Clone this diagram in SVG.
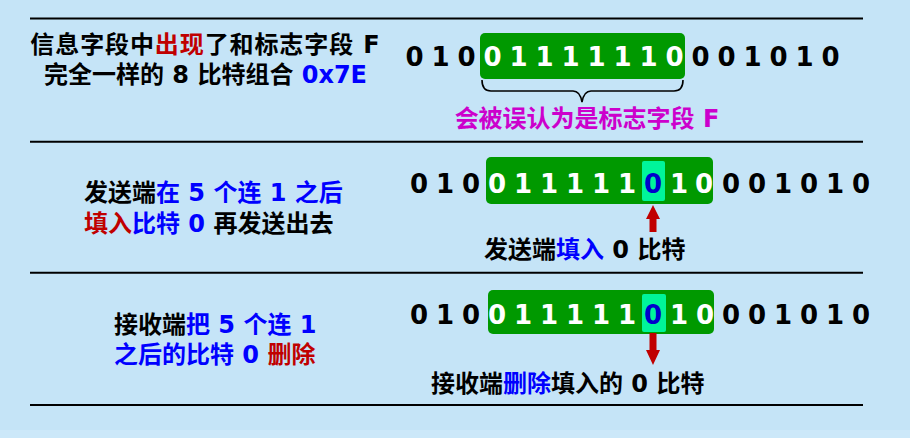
<svg xmlns="http://www.w3.org/2000/svg" width="910" height="438" viewBox="0 0 910 438">
<style>
.t{font-family:"DejaVu Sans","Noto Sans CJK SC",sans-serif;font-weight:bold;font-size:24px;fill:#000}
.d{font-family:"DejaVu Sans","Noto Sans CJK SC",sans-serif;font-weight:bold;font-size:26px;fill:#000;text-anchor:middle}
.w{fill:#fff}
.bl{fill:#0000FF}
.db{fill:#0000CC}
.rd{fill:#C00000}
.mg{fill:#CC00CC}
.sep{stroke:#000;stroke-width:2}
.box{fill:#009900}
.hl{fill:#00F59A}
.arr{fill:#C00000}
</style>
<rect x="0" y="0" width="910" height="438" fill="#C5E4F7"/>
<rect x="0" y="430" width="910" height="8" fill="#CCE8F9"/>
<g id="separators">
<line class="sep" x1="30" y1="18.5" x2="863" y2="18.5"/>
<line class="sep" x1="30" y1="141.8" x2="863" y2="141.8"/>
<line class="sep" x1="30" y1="272.7" x2="863" y2="272.7"/>
<line class="sep" x1="30" y1="405" x2="863" y2="405"/>
</g>
<g id="row1-desc">
<text class="t" x="205.5" y="53.3" text-anchor="middle" letter-spacing="0.9">信息字段中<tspan class="rd">出现</tspan>了和标志字段 F</text>
<text class="t" x="205.5" y="82.7" text-anchor="middle">完全一样的 8 比特组合 <tspan class="bl">0x7E</tspan></text>
</g>
<g id="row1-bits">
<rect class="box" x="480" y="33" width="205" height="46" rx="5"/>
<text class="d" x="414.5" y="65.5">0</text><text class="d" x="440.5" y="65.5">1</text><text class="d" x="466.5" y="65.5">0</text>
<text class="d w" x="492.5" y="65.5">0</text><text class="d w" x="518.5" y="65.5">1</text><text class="d w" x="544.5" y="65.5">1</text><text class="d w" x="570.5" y="65.5">1</text><text class="d w" x="596.5" y="65.5">1</text><text class="d w" x="622.5" y="65.5">1</text><text class="d w" x="648.5" y="65.5">1</text><text class="d w" x="674.5" y="65.5">0</text>
<text class="d" x="700.5" y="65.5">0</text><text class="d" x="726.5" y="65.5">0</text><text class="d" x="752.5" y="65.5">1</text><text class="d" x="778.5" y="65.5">0</text><text class="d" x="804.5" y="65.5">1</text><text class="d" x="830.5" y="65.5">0</text>
</g>
<g id="row1-label">
<text class="t mg" x="587" y="126.5" text-anchor="middle">会被误认为是标志字段 F</text>
</g>
<g id="row2-desc">
<text class="t" x="84" y="201">发送端<tspan class="bl">在 5 个连 1 之后</tspan></text>
<text class="t" x="84" y="231.7"><tspan class="rd">填入</tspan><tspan class="bl">比特 0</tspan> 再发送出去</text>
</g>
<g id="row2-bits">
<rect class="box" x="486" y="157" width="227" height="47" rx="5"/>
<rect class="hl" x="642" y="161" width="23" height="40" rx="2"/>
<text class="d" x="419" y="193.3">0</text><text class="d" x="445" y="193.3">1</text><text class="d" x="471" y="193.3">0</text>
<text class="d w" x="497" y="193.3">0</text><text class="d w" x="523" y="193.3">1</text><text class="d w" x="549" y="193.3">1</text><text class="d w" x="575" y="193.3">1</text><text class="d w" x="601" y="193.3">1</text><text class="d w" x="627" y="193.3">1</text><text class="d db" x="653" y="193.3">0</text><text class="d w" x="679" y="193.3">1</text><text class="d w" x="704" y="193.3">0</text>
<text class="d" x="731" y="193.3">0</text><text class="d" x="757" y="193.3">0</text><text class="d" x="783" y="193.3">1</text><text class="d" x="809" y="193.3">0</text><text class="d" x="835" y="193.3">1</text><text class="d" x="861" y="193.3">0</text>
</g>
<g id="row2-label">
<text class="t" x="484" y="258.3">发送端<tspan class="bl">填入</tspan> 0 比特</text>
</g>
<g id="row3-desc">
<text class="t" x="114" y="333.3">接收端<tspan class="bl">把 5 个连 1</tspan></text>
<text class="t" x="114" y="363.3"><tspan class="bl">之后的比特 0</tspan> <tspan class="rd">删除</tspan></text>
</g>
<g id="row3-bits">
<rect class="box" x="488" y="290" width="226" height="44" rx="5"/>
<rect class="hl" x="642" y="294" width="24" height="38" rx="2"/>
<text class="d" x="419" y="324">0</text><text class="d" x="445" y="324">1</text><text class="d" x="471" y="324">0</text>
<text class="d w" x="497" y="324">0</text><text class="d w" x="523" y="324">1</text><text class="d w" x="549" y="324">1</text><text class="d w" x="575" y="324">1</text><text class="d w" x="601" y="324">1</text><text class="d w" x="627" y="324">1</text><text class="d db" x="653" y="324">0</text><text class="d w" x="679" y="324">1</text><text class="d w" x="705" y="324">0</text>
<text class="d" x="731" y="324">0</text><text class="d" x="757" y="324">0</text><text class="d" x="783" y="324">1</text><text class="d" x="809" y="324">0</text><text class="d" x="835" y="324">1</text><text class="d" x="861" y="324">0</text>
</g>
<g id="row3-label">
<text class="t" x="431" y="391.7">接收端<tspan class="bl">删除</tspan>填入的 0 比特</text>
</g>
<g id="connectors">
<path d="M482,80 Q482,91 491,91 L573,91 Q580,91 582,102 Q584,91 591,91 L674,91 Q683,91 683,80" fill="none" stroke="#000" stroke-width="1.6"/>
<polygon class="arr" points="653,205 660,219 656.5,219 656.5,232 649.5,232 649.5,219 646,219"/>
<polygon class="arr" points="649.5,333 656.5,333 656.5,350 660,350 653,365 646,350 649.5,350"/>
</g>
</svg>
